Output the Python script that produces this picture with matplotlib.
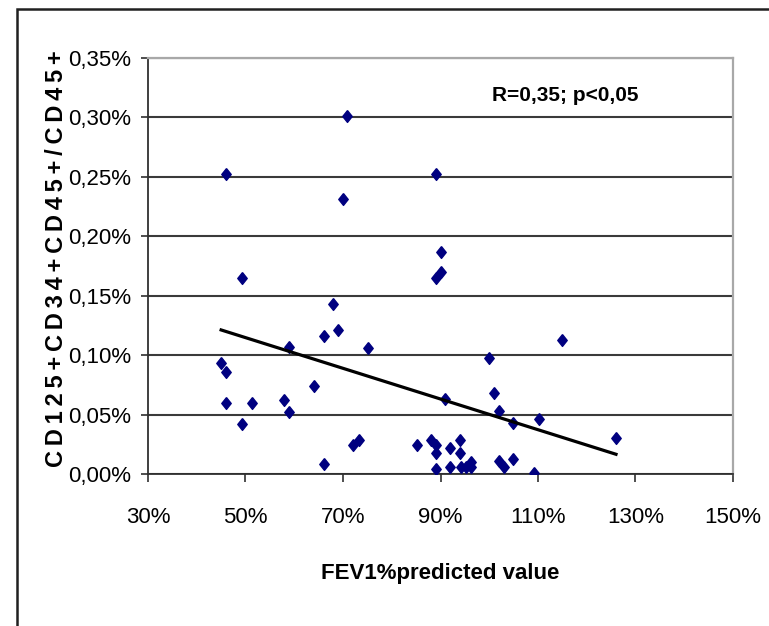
import matplotlib.pyplot as plt
from matplotlib.patches import Rectangle
from matplotlib.ticker import FuncFormatter, MultipleLocator

# FEV1 % predicted vs CD125+CD34+CD45+/CD45+ (%)
fev1 = [46.0, 70.9, 69.9, 89.0, 90.0, 90.0, 89.0, 49.2, 68.0, 69.0,
        66.0, 75.1, 59.0, 115.0, 100.0, 45.0, 46.0, 64.1, 101.0, 91.0,
        46.0, 51.3, 57.9, 59.0, 102.1, 49.2, 104.9, 110.2, 126.0, 72.1,
        73.2, 85.1, 88.0, 89.0, 89.0, 89.0, 92.0, 92.0, 93.9, 93.9,
        94.3, 95.3, 96.2, 96.2, 66.0, 102.1, 103.0, 104.9, 109.2]
cd_ratio = [0.252, 0.301, 0.231, 0.252, 0.187, 0.170, 0.165, 0.165, 0.143, 0.121,
            0.116, 0.106, 0.107, 0.113, 0.098, 0.093, 0.086, 0.074, 0.068, 0.063,
            0.060, 0.060, 0.062, 0.052, 0.053, 0.042, 0.043, 0.046, 0.030, 0.024,
            0.029, 0.024, 0.029, 0.024, 0.018, 0.004, 0.022, 0.006, 0.029, 0.018,
            0.006, 0.006, 0.010, 0.006, 0.008, 0.011, 0.006, 0.013, 0.001]

# linear trendline end points
trend_x = [45.0, 126.0]
trend_y = [0.1212, 0.0166]

x_ticks = [30, 50, 70, 90, 110, 130, 150]

fonts = ['Liberation Sans Narrow', 'Liberation Sans', 'DejaVu Sans']

fig = plt.figure(figsize=(7.69, 6.26), dpi=100)
ax = fig.add_axes([148 / 769, 1 - 474 / 626, 585 / 769, 416 / 626])

diamond = [(0, 1), (0.8, 0), (0, -1), (-0.8, 0), (0, 1)]
ax.plot(fev1, cd_ratio, linestyle='none', marker=diamond, ms=8.5,
        color='#000080', mec='#000080', zorder=3)
ax.plot(trend_x, trend_y, color='black', lw=2.3, zorder=4)

ax.set_xlim(30, 150)
ax.set_ylim(0, 0.35)
ax.set_xticks(x_ticks)
ax.yaxis.set_major_locator(MultipleLocator(0.05))
ax.xaxis.set_major_formatter(FuncFormatter(lambda v, p: f"{v:.0f}%"))
ax.yaxis.set_major_formatter(FuncFormatter(lambda v, p: f"{v:.2f}%".replace('.', ',')))

ax.grid(axis='y', color='#3a3a3a', lw=1.5)
ax.set_axisbelow(True)
for s in ['top', 'right']:
    ax.spines[s].set_color('#a8a8a8')
    ax.spines[s].set_linewidth(1.6)
for s in ['left', 'bottom']:
    ax.spines[s].set_color('#303030')
    ax.spines[s].set_linewidth(1.3)

ax.tick_params(axis='x', direction='out', length=6, width=1.2, pad=18, color='#303030')
ax.tick_params(axis='y', direction='out', length=5, width=1.2, pad=7, color='#303030')
for lab in ax.get_xticklabels() + ax.get_yticklabels():
    lab.set_family(fonts)
    lab.set_fontsize(16)

ax.text(0.714, 0.91, "R=0,35; p<0,05", transform=ax.transAxes, ha='center', va='center',
        family=fonts, fontweight='bold', fontsize=15)

fig.text(440 / 769, 1 - 574 / 626, "FEV1%predicted value", ha='center', va='center',
         family=fonts, fontweight='bold', fontsize=16)
fig.text(57 / 769, 1 - 259 / 626, "\u2009".join("CD125+CD34+CD45+/CD45+"), rotation=90,
         ha='center', va='center', family=fonts, fontweight='bold', fontsize=17)

# outer chart frame
fig.patches.append(Rectangle((17 / 769, -0.1), 1.1, 1.1 - 9 / 626,
                             transform=fig.transFigure, fill=False,
                             edgecolor='#202020', lw=1.8))

fig.savefig('out.png', dpi=100)
